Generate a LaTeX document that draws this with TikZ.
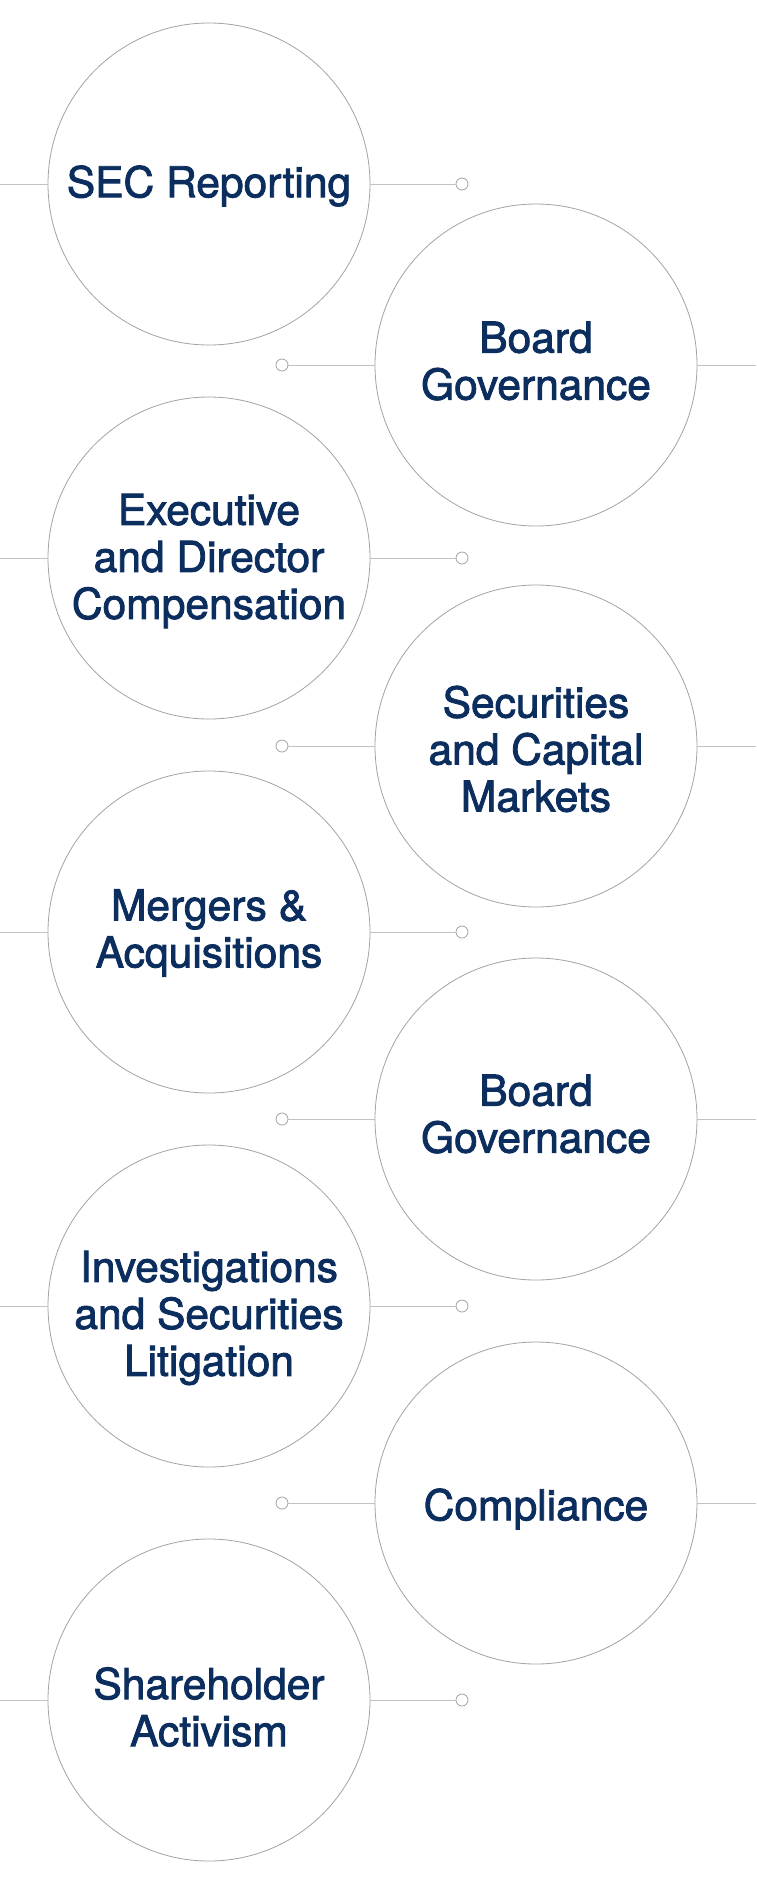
\documentclass[tikz,border=0pt]{standalone}
\usepackage{fontspec}
\usetikzlibrary{positioning}
\newfontfamily\topicfont{TeX Gyre Heros}[FakeBold=2]
\definecolor{navy}{HTML}{0B2E5E}
\definecolor{ringgray}{HTML}{A3A3A3}
\definecolor{linegray}{HTML}{C2C2C2}

\begin{document}
\begin{tikzpicture}[
    x=1pt, y=-1pt,
    topic/.style={circle, draw=ringgray, line width=0.8pt, fill=white,
                  minimum size=322pt, inner sep=0pt},
    topictext/.style={align=center, inner sep=0pt, text=navy,
                  font=\topicfont\fontsize{42.5pt}{47pt}\selectfont},
    pin/.style={circle, draw=ringgray, line width=0.8pt, fill=white,
                minimum size=12pt, inner sep=0pt},
    link/.style={linegray, line width=1pt},
]
\fill[white] (0,0) rectangle (756,1880);
\useasboundingbox (0,0) rectangle (756,1880);

% =====================================================================
% left column: line in from the page edge, pin on the right
% =====================================================================
\foreach \y/\dy/\txt [count=\n] in {
    184/2/{SEC Reporting},
    558/3/{Executive\\and Director\\Compensation},
    932/1/{Mergers \&\\Acquisitions},
    1306/12/{Investigations\\and Securities\\Litigation},
    1700/7/{Shareholder\\Activism}} {
    \node[topic] (L\n) at (209,\y) {};
    \node[topictext] (Lt\n) at ([yshift=-\dy pt]L\n.center) {\txt};
    \node[pin] (pl\n) at (462,\y) {};
    \coordinate (el\n) at (0,\y);
    \draw[link] (el\n) -- (L\n.west);
    \draw[link] (L\n.east) -- (pl\n.west);
}

% =====================================================================
% right column: pin on the left, line out to the page edge
% =====================================================================
\foreach \y/\dy/\txt [count=\n] in {
    365/-4/{Board\\Governance},
    746/3/{Securities\\and Capital\\Markets},
    1119/-5/{Board\\Governance},
    1503/6/{Compliance}} {
    \node[topic] (R\n) at (536,\y) {};
    \node[topictext] (Rt\n) at ([yshift=-\dy pt]R\n.center) {\txt};
    \node[pin] (pr\n) at (282,\y) {};
    \coordinate (er\n) at (756,\y);
    \draw[link] (pr\n.east) -- (R\n.west);
    \draw[link] (R\n.east) -- (er\n);
}

\end{tikzpicture}
\end{document}
